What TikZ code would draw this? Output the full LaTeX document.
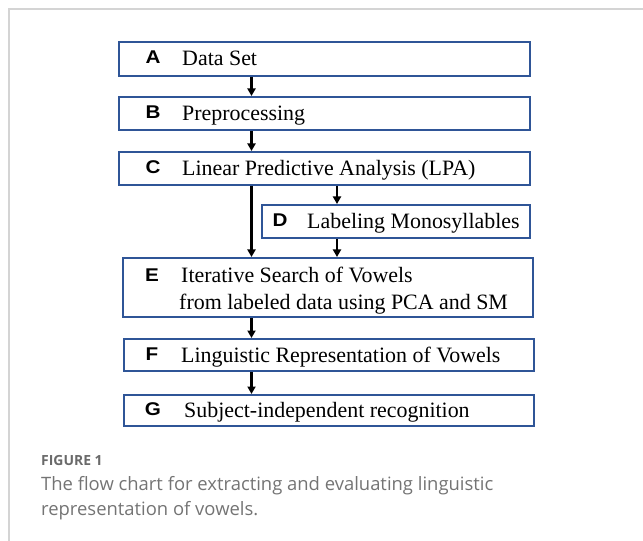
\documentclass[tikz,border=0pt]{standalone}
\usepackage{fontspec}
\setmainfont{Liberation Serif}
\newfontfamily\tagfont{Liberation Sans}
\newfontfamily\capfont{Open Sans}
\usetikzlibrary{arrows.meta}
\definecolor{boxblue}{HTML}{2F5597}
\definecolor{capgray}{HTML}{747474}
\definecolor{figgray}{HTML}{6A6A6A}
\definecolor{framegray}{HTML}{D4D4D4}
\newcommand{\steptag}[1]{\scalebox{1.12}[1]{#1}}
\tikzset{
  stepbox/.style={draw=boxblue, line width=2bp, rectangle, inner sep=0pt},
  tag/.style={font=\tagfont\bfseries\fontsize{18.5}{18.5}\selectfont, inner sep=0pt, anchor=base},
  txt/.style={font=\fontsize{22}{27}\selectfont, inner sep=0pt, anchor=base west},
  captxt/.style={font=\capfont\fontsize{18.5}{25}\selectfont, text=capgray, anchor=base west, inner sep=0pt},
  arr/.style={line width=2.1bp, -{Triangle[length=7.5bp,width=8bp]}},
}
\begin{document}
\begin{tikzpicture}[x=1bp, y=-1bp]
\useasboundingbox (0,0) rectangle (643,541);
% open frame: top and left edges
\draw[framegray, line width=1.5bp] (9,541) -- (9,9) -- (643,9);

% boxes
\node[stepbox, minimum width=411bp, minimum height=34bp] (A) at (324.5,59) {};
\node[stepbox, minimum width=411bp, minimum height=33bp] (B) at (324.5,113.5) {};
\node[stepbox, minimum width=411bp, minimum height=33bp] (C) at (324.5,168.5) {};
\node[stepbox, minimum width=268bp, minimum height=33bp] (D) at (396,221.5) {};
\node[stepbox, minimum width=410bp, minimum height=59bp] (E) at (328,287.5) {};
\node[stepbox, minimum width=410bp, minimum height=32bp] (F) at (329,355) {};
\node[stepbox, minimum width=410bp, minimum height=31bp] (G) at (329,410.5) {};

% step letters
\node[tag] (tA) at (153,64) {\steptag{A}};
\node[tag] (tB) at (153,118.5) {\steptag{B}};
\node[tag] (tC) at (153,173.5) {\steptag{C}};
\node[tag] (tD) at (280,226.5) {\steptag{D}};
\node[tag] (tE) at (152,281) {\steptag{E}};
\node[tag] (tF) at (152,360) {\steptag{F}};
\node[tag] (tG) at (153,415.5) {\steptag{G}};

% step texts
\node[txt] (xA) at (182,66) {Data Set};
\node[txt] (xB) at (182,120.5) {Preprocessing};
\node[txt] (xC) at (182,175.5) {Linear Predictive Analysis (LPA)};
\node[txt] (xD) at (307,228.5) {Labeling Monosyllables};
\node[txt] (xE1) at (181,282) {Iterative Search of Vowels};
\node[txt] (xE2) at (179,309) {from labeled data using PCA and SM};
\node[txt] (xF) at (181,362) {Linguistic Representation of Vowels};
\node[txt] (xG) at (184,417.5) {Subject-independent recognition};

% connector columns
\coordinate (spine) at (251.5,0);
\coordinate (side) at (337,0);

\draw[arr] (A.south -| spine) -- (B.north -| spine);
\draw[arr] (B.south -| spine) -- (C.north -| spine);
\draw[arr] (C.south -| spine) -- (E.north -| spine);
\draw[arr] (C.south -| side) -- (D.north -| side);
\draw[arr] (D.south -| side) -- (E.north -| side);
\draw[arr] (E.south -| spine) -- (F.north -| spine);
\draw[arr] (F.south -| spine) -- (G.north -| spine);

% caption
\node[font=\capfont\bfseries\fontsize{14}{14}\selectfont, text=figgray, anchor=base west, inner sep=0pt] (fig) at (41,465) {FIGURE 1};
\node[captxt] (cap1) at (41,490) {The flow chart for extracting and evaluating linguistic};
\node[captxt] (cap2) at (41,515) {representation of vowels.};
\end{tikzpicture}
\end{document}
